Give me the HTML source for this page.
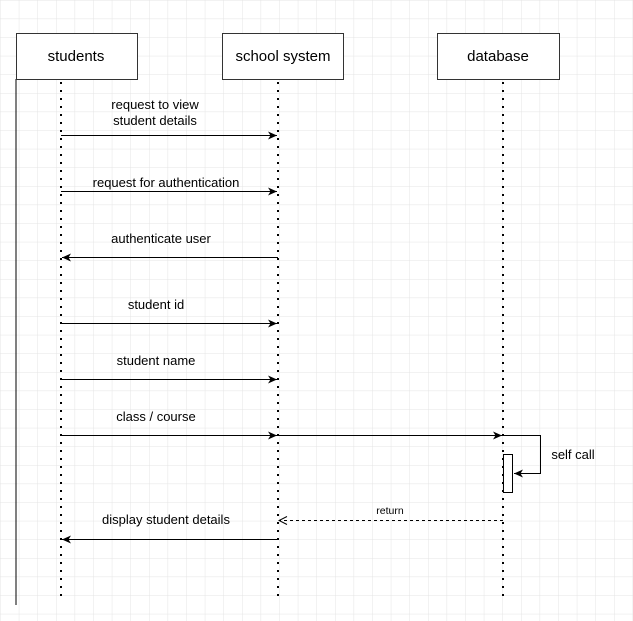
<!DOCTYPE html>
<html><head><style>
body{margin:0;background:#fff;}
svg{display:block;font-family:"Liberation Sans",sans-serif;}
</style></head><body>
<svg width="633" height="621" viewBox="0 0 633 621" xmlns="http://www.w3.org/2000/svg">
<defs>
<pattern id="g" x="0.7" y="0.5" width="18.6" height="18.6" patternUnits="userSpaceOnUse">
<path d="M18.6 0V18.6M0 18.6H18.6" stroke="#e4e4e4" stroke-width="1" fill="none"/>
</pattern>
<marker id="a" markerWidth="10" markerHeight="10" refX="9" refY="5" orient="auto" markerUnits="userSpaceOnUse">
<path d="M0,1 L9,5 L0,9 L2.5,5 Z" fill="#000"/>
</marker>
<marker id="o" markerWidth="10" markerHeight="10" refX="9" refY="5" orient="auto" markerUnits="userSpaceOnUse">
<path d="M1,1 L9,5 L1,9" fill="none" stroke="#000"/>
</marker>
</defs>
<rect width="633" height="621" fill="url(#g)"/>
<g stroke="#000" stroke-width="2" stroke-dasharray="2 6" fill="none">
<line x1="61" y1="82" x2="61" y2="596"/>
<line x1="278" y1="82" x2="278" y2="596"/>
<line x1="503" y1="82" x2="503" y2="596"/>
</g>
<line x1="16" y1="79" x2="16" y2="605" stroke="#000"/>
<g fill="#fff" stroke="#333" stroke-width="1">
<rect x="16.5" y="33.5" width="121" height="46"/>
<rect x="222.5" y="33.5" width="121" height="46"/>
<rect x="437.5" y="33.5" width="122" height="46"/>
</g>
<g font-size="15" text-anchor="middle" fill="#000">
<text x="76" y="61">students</text>
<text x="283" y="61">school system</text>
<text x="498" y="61">database</text>
</g>
<g stroke="#000" stroke-width="1" fill="none">
<line x1="61" y1="135.5" x2="277" y2="135.5" marker-end="url(#a)"/>
<line x1="61" y1="191.5" x2="277" y2="191.5" marker-end="url(#a)"/>
<line x1="278" y1="257.5" x2="62" y2="257.5" marker-end="url(#a)"/>
<line x1="61" y1="323.5" x2="277" y2="323.5" marker-end="url(#a)"/>
<line x1="61" y1="379.5" x2="277" y2="379.5" marker-end="url(#a)"/>
<line x1="61" y1="435.5" x2="277" y2="435.5" marker-end="url(#a)"/>
<line x1="278" y1="435.5" x2="502" y2="435.5" marker-end="url(#a)"/>
<polyline points="503,435.5 540.5,435.5 540.5,473.5 514,473.5" marker-end="url(#a)"/>
<line x1="503" y1="520.5" x2="279" y2="520.5" stroke-dasharray="3 3" marker-end="url(#o)"/>
<line x1="278" y1="539.5" x2="62" y2="539.5" marker-end="url(#a)"/>
</g>
<rect x="503.5" y="454.5" width="9" height="38" fill="#fff" stroke="#000"/>
<g font-size="13" text-anchor="middle" fill="#000">
<text x="155" y="109">request to view</text>
<text x="155" y="125">student details</text>
<text x="166" y="187">request for authentication</text>
<text x="161" y="243">authenticate user</text>
<text x="156" y="309">student id</text>
<text x="156" y="365">student name</text>
<text x="156" y="421">class / course</text>
<text x="573" y="459">self call</text>
<text x="166" y="524">display student details</text>
<text x="390" y="514" font-size="10.5">return</text>
</g>
</svg>
</body></html>
